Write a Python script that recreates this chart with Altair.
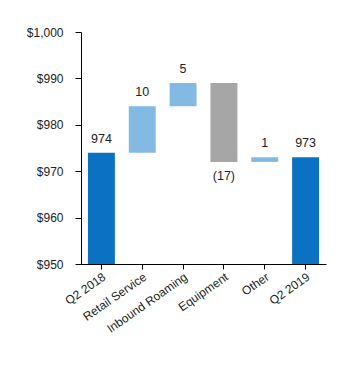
import altair as alt
import pandas as pd

categories = ["Q2 2018", "Retail Service", "Inbound Roaming", "Equipment", "Other", "Q2 2019"]
starts = [950, 974, 984, 989, 972, 950]
ends = [974, 984, 989, 972, 973, 973]
labels = ["974", "10", "5", "(17)", "1", "973"]
kinds = ["total", "up", "up", "down", "up", "total"]

df = pd.DataFrame({
    "cat": categories,
    "start": starts,
    "end": ends,
    "label": labels,
    "kind": kinds,
})
df["top"] = df[["start", "end"]].max(axis=1)
df["bottom"] = df[["start", "end"]].min(axis=1)
df["labelpos"] = [t if k != "down" else b for t, b, k in zip(df["top"], df["bottom"], df["kind"])]

FONT = "Liberation Sans"

x = alt.X("cat:N", sort=categories, title=None,
          scale=alt.Scale(paddingInner=0.34, paddingOuter=0.17),
          axis=alt.Axis(labelAngle=325, labelAlign="right", labelBaseline="top",
                        labelFontSize=12, labelColor="#222222", labelFont=FONT,
                        domainColor="#000000", tickColor="#000000", tickSize=5,
                        labelPadding=2, grid=False))

bars = alt.Chart(df).mark_bar().encode(
    x=x,
    y=alt.Y("start:Q", title=None,
            scale=alt.Scale(domain=[950, 1000], nice=False, zero=False),
            axis=alt.Axis(values=[950, 960, 970, 980, 990, 1000], format="$,.0f",
                          labelFontSize=12, labelColor="#222222", labelFont=FONT,
                          domainColor="#000000", tickColor="#000000", tickSize=6,
                          labelPadding=12, grid=False)),
    y2="end:Q",
    color=alt.Color("kind:N", legend=None,
                    scale=alt.Scale(domain=["total", "up", "down"],
                                    range=["#0B72C3", "#82BAE4", "#A6A6A6"])),
)

text_up = alt.Chart(df[df["kind"] != "down"]).mark_text(
    baseline="bottom", dy=-7, fontSize=12.5, font=FONT, color="#222222"
).encode(x=alt.X("cat:N", sort=categories), y="labelpos:Q", text="label:N")

text_down = alt.Chart(df[df["kind"] == "down"]).mark_text(
    baseline="top", dy=8, fontSize=12.5, font=FONT, color="#222222"
).encode(x=alt.X("cat:N", sort=categories), y="labelpos:Q", text="label:N")

chart = alt.layer(bars, text_up, text_down).properties(
    width=245, height=232,
    padding={"left": 18, "top": 18, "right": 5, "bottom": 5},
).configure_view(stroke=None)

chart.save("out.html", embed_options={"renderer": "svg", "actions": False})
